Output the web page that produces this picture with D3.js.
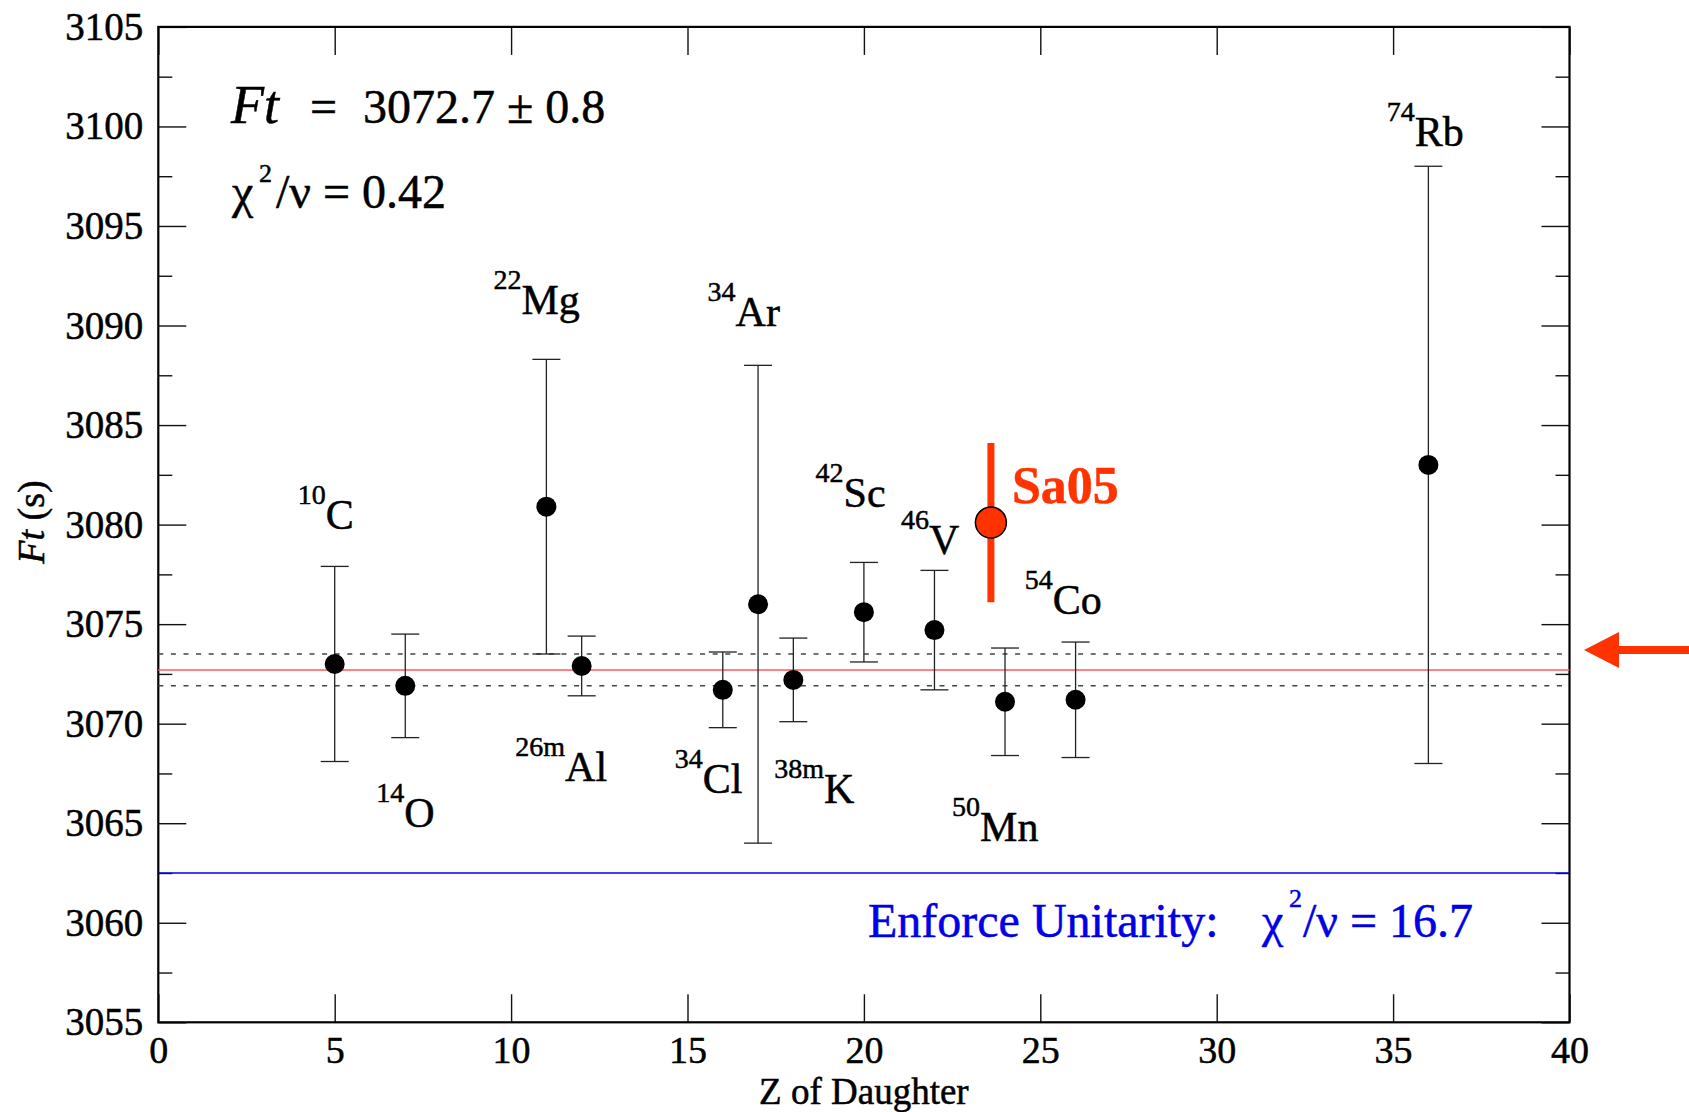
<!DOCTYPE html>
<html>
<head>
<meta charset="utf-8">
<script src="https://cdn.jsdelivr.net/npm/d3@7"></script>
<style>
  html, body { margin: 0; padding: 0; background: #fff; }
  svg text { font-family: "Liberation Serif", "Times New Roman", serif; stroke: currentColor; stroke-width: 0.5px; }
</style>
</head>
<body>
<div class="viewer"></div>
<script>
'use strict';

// superallowed decays, corrected Ft values
var massNum  = ['10', '14', '22', '26m', '34', '34', '38m', '42', '46', '50', '54', '74'];
var element  = ['C', 'O', 'Mg', 'Al', 'Cl', 'Ar', 'K', 'Sc', 'V', 'Mn', 'Co', 'Rb'];
var zDaughter = [5, 7, 11, 12, 16, 17, 18, 20, 22, 24, 26, 36];
var ftValue  = [3073.0, 3071.9, 3080.9, 3072.9, 3071.7, 3076.0, 3072.2, 3075.6, 3074.7, 3071.1, 3071.2, 3083.0];
var ftError  = [4.9, 2.6, 7.4, 1.5, 1.9, 12.0, 2.1, 2.5, 3.0, 2.7, 2.9, 15.0];

// where each nuclide name sits (data units)
var labelZ  = [3.95, 6.18, 9.50, 10.12, 14.64, 15.57, 17.46, 18.63, 21.05, 22.50, 24.56, 34.82];
var labelFt = [3079.8, 3064.8, 3090.6, 3067.1, 3066.5, 3090.0, 3066.0, 3080.9, 3078.5, 3064.1, 3075.5, 3099.0];

// the new 46V value
var sa05 = { z: 23.6, ft: 3080.1, err: 4.0 };

// fit results
var ftMean = 3072.7, ftMeanErr = 0.8;
var ftUnitarity = 3062.5;
var arrowFt = 3073.7;

var xTicks = d3.range(0, 41, 5);
var yTicks = d3.range(3055, 3106, 5);
var yMinor = d3.range(3057.5, 3105, 5);

var W = 1689, H = 1112,
    padL = 158.3, padR = 1569.5, padT = 26.9, padB = 1022.3;

var svg = d3.select('.viewer')
  .append('svg')
  .attr('width', W)
  .attr('height', H);

var x = d3.scaleLinear().domain([0, 40]).range([padL, padR]);
var y = d3.scaleLinear().domain([3055, 3105]).range([padB, padT]);

// axes, ticks pointing inward on all four sides
var gx = svg.append('g')
  .attr('transform', 'translate(0,' + padB + ')')
  .call(d3.axisBottom(x).tickValues(xTicks).tickSize(-28).tickPadding(14));
svg.append('g')
  .attr('transform', 'translate(0,' + padT + ')')
  .call(d3.axisTop(x).tickValues(xTicks).tickSize(-28).tickFormat(''));
var gy = svg.append('g')
  .attr('transform', 'translate(' + padL + ',0)')
  .call(d3.axisLeft(y).tickValues(yTicks).tickSize(-28).tickPadding(15).tickFormat(d3.format('d')));
svg.append('g')
  .attr('transform', 'translate(' + padL + ',0)')
  .call(d3.axisLeft(y).tickValues(yMinor).tickSize(-14).tickFormat(''));
svg.append('g')
  .attr('transform', 'translate(' + padR + ',0)')
  .call(d3.axisRight(y).tickValues(yTicks).tickSize(-28).tickFormat(''));
svg.append('g')
  .attr('transform', 'translate(' + padR + ',0)')
  .call(d3.axisRight(y).tickValues(yMinor).tickSize(-14).tickFormat(''));

svg.selectAll('.domain').remove();
svg.selectAll('.tick line').attr('stroke', '#111').attr('stroke-width', 1.4);
gx.selectAll('text').attr('font-size', 38).attr('fill', '#000');
gy.selectAll('text').attr('font-size', 39).attr('fill', '#000');

svg.append('rect')
  .attr('x', padL).attr('y', padT)
  .attr('width', padR - padL).attr('height', padB - padT)
  .attr('fill', 'none').attr('stroke', '#000').attr('stroke-width', 2.2);

// axis titles
svg.append('text')
  .attr('x', x(20)).attr('y', 1104)
  .attr('text-anchor', 'middle')
  .attr('font-size', 37)
  .text('Z of Daughter');

var yt = svg.append('text')
  .attr('transform', 'translate(44,522) rotate(-90)')
  .attr('text-anchor', 'middle')
  .attr('font-size', 38);
yt.append('tspan').attr('font-style', 'italic').text('Ft');
yt.append('tspan').text(' (s)');

// unitarity line
svg.append('line')
  .attr('x1', padL).attr('x2', padR)
  .attr('y1', y(ftUnitarity)).attr('y2', y(ftUnitarity))
  .attr('stroke', '#0000e8').attr('stroke-width', 1.6);

// average and its band
svg.selectAll('.band')
  .data([ftMean + ftMeanErr, ftMean - ftMeanErr])
  .enter().append('line')
  .attr('class', 'band')
  .attr('x1', padL).attr('x2', padR)
  .attr('y1', function (d) { return y(d); })
  .attr('y2', function (d) { return y(d); })
  .attr('stroke', '#444').attr('stroke-width', 1.5)
  .attr('stroke-dasharray', '5,7.6');

svg.append('line')
  .attr('x1', padL).attr('x2', padR)
  .attr('y1', y(ftMean)).attr('y2', y(ftMean))
  .attr('stroke', '#ff5a5a').attr('stroke-width', 1.6);

// error bars
var pts = zDaughter.map(function (z, i) {
  return { z: z, ft: ftValue[i], err: ftError[i] };
});

var bars = svg.append('g').attr('stroke', '#222').attr('stroke-width', 1.3);
pts.forEach(function (d) {
  var xx = x(d.z), y0 = y(d.ft - d.err), y1 = y(d.ft + d.err);
  bars.append('line').attr('x1', xx).attr('x2', xx).attr('y1', y0).attr('y2', y1);
  bars.append('line').attr('x1', xx - 14).attr('x2', xx + 14).attr('y1', y0).attr('y2', y0);
  bars.append('line').attr('x1', xx - 14).attr('x2', xx + 14).attr('y1', y1).attr('y2', y1);
});

svg.selectAll('.pt')
  .data(pts)
  .enter().append('circle')
  .attr('class', 'pt')
  .attr('cx', function (d) { return x(d.z); })
  .attr('cy', function (d) { return y(d.ft); })
  .attr('r', 10)
  .attr('fill', '#000');

// nuclide names
element.forEach(function (el, i) {
  var t = svg.append('text')
    .attr('x', x(labelZ[i]))
    .attr('y', y(labelFt[i]));
  t.append('tspan').attr('font-size', 28).attr('dy', -25).text(massNum[i]);
  t.append('tspan').attr('font-size', 42).attr('dy', 25).text(el);
});

// Sa05 point
var red = '#ff3300';
svg.append('line')
  .attr('x1', x(sa05.z)).attr('x2', x(sa05.z))
  .attr('y1', y(sa05.ft - sa05.err)).attr('y2', y(sa05.ft + sa05.err))
  .attr('stroke', red).attr('stroke-width', 7);
svg.append('circle')
  .attr('cx', x(sa05.z)).attr('cy', y(sa05.ft))
  .attr('r', 15.5)
  .attr('fill', red).attr('stroke', '#000').attr('stroke-width', 1.5);
svg.append('text')
  .attr('x', x(sa05.z) + 21).attr('y', y(sa05.ft) - 19.5)
  .attr('font-size', 52).attr('font-weight', 'bold')
  .attr('fill', red).style('color', red)
  .text('Sa05');

// arrow at the right margin
var ay = y(arrowFt);
svg.append('path')
  .attr('d', ['M', 1584, ay, 'L', 1619, ay - 18, 'L', 1619, ay - 4, 'L', W, ay - 4,
              'L', W, ay + 4, 'L', 1619, ay + 4, 'L', 1619, ay + 18, 'Z'].join(' '))
  .attr('fill', red);

// fit annotations
var t1 = svg.append('text').attr('y', 123).attr('font-size', 48);
t1.append('tspan').attr('x', 231).attr('font-size', 54).attr('font-style', 'italic').text('Ft');
t1.append('tspan').attr('x', 310).text('=');
t1.append('tspan').attr('x', 363).text('3072.7 \u00b1 0.8');

var t2 = svg.append('text').attr('y', 208).attr('font-size', 48);
t2.append('tspan').attr('x', 232).text('\u03c7');
t2.append('tspan').attr('x', 259).attr('y', 182).attr('font-size', 26).text('2');
t2.append('tspan').attr('x', 276).attr('y', 208).text('/\u03bd = 0.42');

var blue = '#0000e8';
var t3 = svg.append('text').attr('y', 937).attr('font-size', 48)
  .attr('fill', blue).style('color', blue);
t3.append('tspan').attr('x', 868).text('Enforce Unitarity:');
t3.append('tspan').attr('x', 1262).text('\u03c7');
t3.append('tspan').attr('x', 1289).attr('y', 907).attr('font-size', 26).text('2');
t3.append('tspan').attr('x', 1303).attr('y', 937).text('/\u03bd = 16.7');
</script>
</body>
</html>
